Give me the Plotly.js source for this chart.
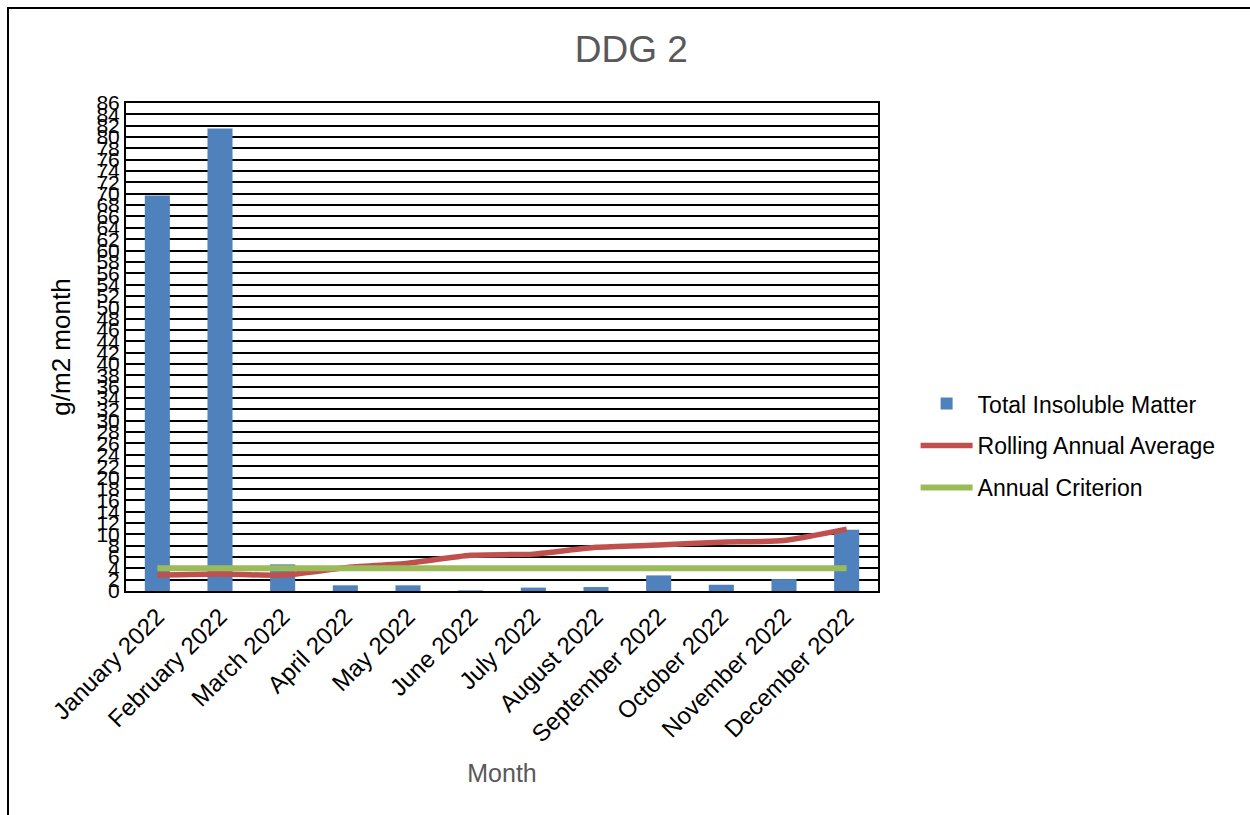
<!DOCTYPE html>
<html>
<head>
<meta charset="utf-8">
<script src="https://cdn.plot.ly/plotly-3.0.1.min.js"></script>
<style>
  html, body { margin: 0; padding: 0; background: #fff; }
  #chart { position: absolute; left: 0; top: 0; width: 1250px; height: 815px; }
  #frame { position: absolute; left: 7px; top: 7px; width: 1243px; height: 808px;
           border-left: 2px solid #000; border-top: 2px solid #000; pointer-events: none; box-sizing: border-box; }
</style>
</head>
<body>
<div id="chart"></div>
<div id="frame"></div>
<script>
const months = ["January 2022", "February 2022", "March 2022", "April 2022", "May 2022", "June 2022",
                "July 2022", "August 2022", "September 2022", "October 2022", "November 2022", "December 2022"];
const totalInsoluble = [69.7, 81.5, 4.7, 1.0, 1.0, 0.1, 0.6, 0.7, 2.75, 1.1, 2.1, 10.8];
const rollingAverage = [2.8, 3.0, 2.8, 4.1, 4.9, 6.3, 6.5, 7.7, 8.1, 8.6, 8.9, 10.9];
const annualCriterion = [4, 4, 4, 4, 4, 4, 4, 4, 4, 4, 4, 4];
const yTicks = [];
for (let v = 0; v <= 86; v += 2) yTicks.push(v);

const FONT = "Liberation Sans, Arial, sans-serif";

const traces = [
  {
    type: "bar", name: "Total Insoluble Matter", x: months, y: totalInsoluble,
    marker: { color: "#4F81BD" }, legendgroup: "a"
  },
  {
    type: "scatter", mode: "lines", name: "Rolling Annual Average", x: months, y: rollingAverage,
    line: { color: "#C0504D", width: 5.5, shape: "spline", smoothing: 0.6 }, legendgroup: "b"
  },
  {
    type: "scatter", mode: "lines", name: "Annual Criterion", x: months, y: annualCriterion,
    line: { color: "#9BBB59", width: 6 }, legendgroup: "c"
  }
];

const layout = {
  width: 1250, height: 815,
  margin: { l: 126, r: 372, t: 103, b: 224, pad: 0 },
  paper_bgcolor: "#fff", plot_bgcolor: "#fff",
  font: { family: FONT, color: "#000", size: 16 },
  title: { text: "DDG 2", font: { family: FONT, size: 37, color: "#595959" }, x: 0.505, xanchor: "center", y: 0.94, yanchor: "middle" },
  bargap: 0.6,
  showlegend: true,
  legend: {
    x: 1.05, xanchor: "left", y: 0.428, yanchor: "top",
    font: { family: FONT, size: 23, color: "#000" },
    itemwidth: 52,
    tracegroupgap: 9, bgcolor: "rgba(0,0,0,0)"
  },
  xaxis: {
    type: "category", tickangle: -45, tickfont: { family: FONT, size: 24, color: "#000" },
    showline: true, linecolor: "#000", linewidth: 2, mirror: true,
    ticks: "", showgrid: false,
    title: { text: "Month", font: { family: FONT, size: 25, color: "#595959" }, standoff: 18 }
  },
  yaxis: {
    range: [0, 86], tickmode: "array", tickvals: yTicks, ticktext: yTicks.map(String),
    tickfont: { family: FONT, size: 21, color: "#000" },
    showline: true, linecolor: "#000", linewidth: 2, mirror: true,
    showgrid: true, gridcolor: "#000", gridwidth: 2, zeroline: false, ticks: "",
    title: { text: "g/m2 month", font: { family: FONT, size: 26, color: "#000" }, standoff: 18 }
  }
};

Plotly.newPlot("chart", traces, layout, { displayModeBar: false, staticPlot: true });
</script>
</body>
</html>
